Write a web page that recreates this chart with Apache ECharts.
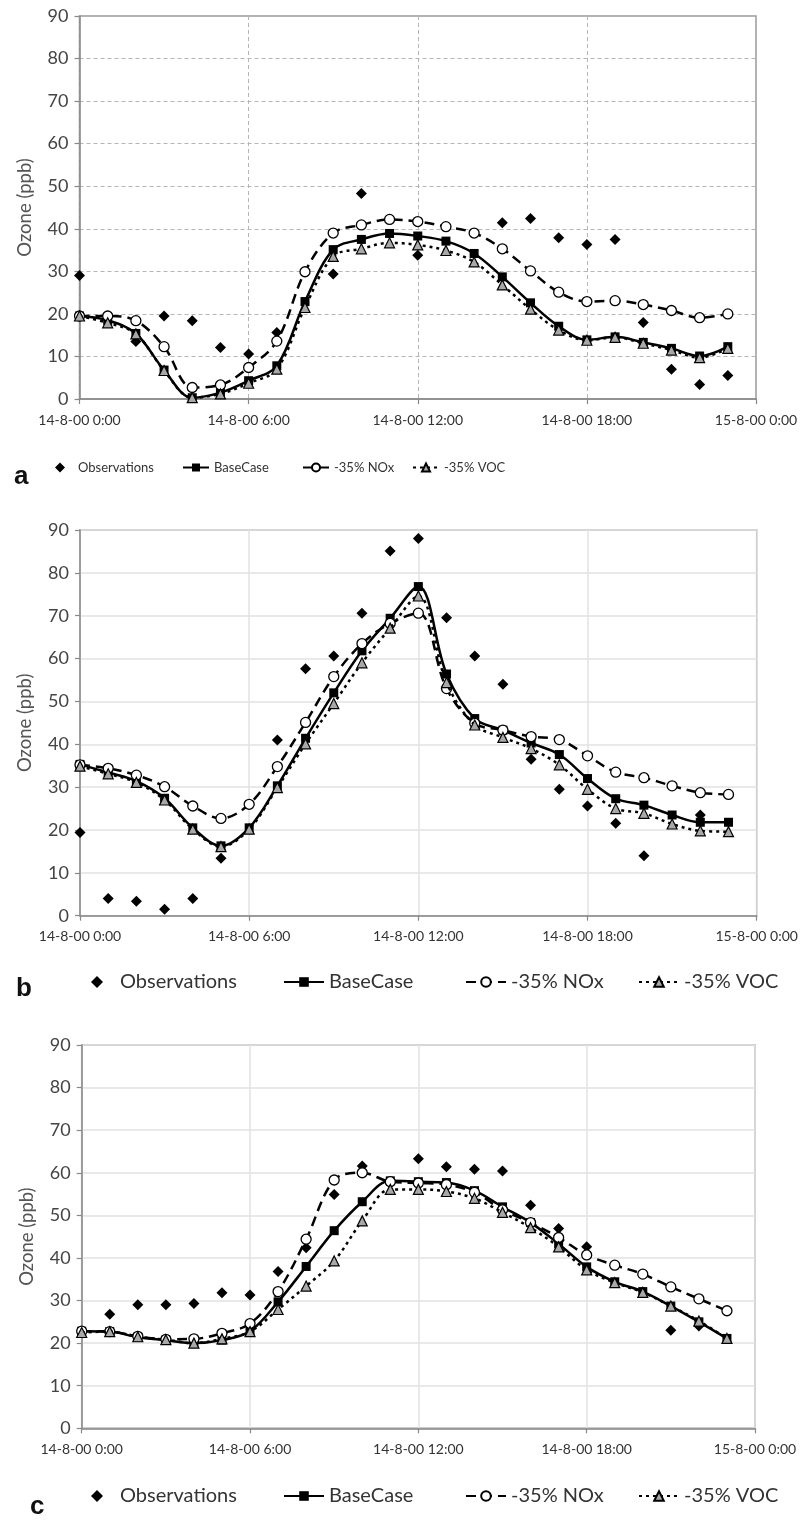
<!DOCTYPE html>
<html><head><meta charset="utf-8">
<script src="https://cdn.jsdelivr.net/npm/echarts@6/dist/echarts.min.js"></script>
<style>html,body{margin:0;padding:0;background:#fff}#chart{width:802px;height:1520px}</style>
</head><body><div id="chart"></div>
<script>
// ---- data ----
const hours = [0,1,2,3,4,5,6,7,8,9,10,11,12,13,14,15,16,17,18,19,20,21,22,23];
const xTickLabels = ['14-8-00 0:00','14-8-00 6:00','14-8-00 12:00','14-8-00 18:00','15-8-00 0:00'];
const seriesNames = ['Observations','BaseCase','-35% NOx','-35% VOC'];
const panelLetters = ['a','b','c'];
const yAxisTitle = 'Ozone (ppb)';

// panel a
const obsA  = [29.0,null,13.5,19.5,18.4,12.1,10.6,15.6,null,29.4,48.3,null,33.8,null,null,41.4,42.4,37.9,36.3,37.5,18.0,7.0,3.4,5.5];
const baseA = [19.5,18.5,15.4,6.8,0.3,1.5,4.3,7.8,22.9,35.1,37.5,38.9,38.3,37.1,34.2,28.7,22.6,17.1,13.9,14.6,13.3,11.9,10.1,12.3];
const noxA  = [19.5,19.5,18.4,12.3,2.7,3.3,7.4,13.6,29.9,39.0,40.9,42.2,41.7,40.5,39.0,35.3,30.1,25.1,22.9,23.1,22.2,20.8,19.1,20.0];
const vocA  = [19.5,17.9,15.3,6.7,0.3,1.2,3.7,7.0,21.5,33.5,35.3,36.7,36.2,34.9,32.2,26.8,21.1,16.2,13.8,14.5,13.1,11.5,9.7,11.9];
// panel b
const obsB  = [19.4,4.0,3.4,1.5,4.0,13.4,null,41.0,57.6,60.6,70.6,85.1,88.0,69.5,60.6,54.0,36.5,29.5,25.6,21.6,14.0,null,23.5,null];
const baseB = [35.3,33.4,31.4,27.4,20.5,16.3,20.5,30.3,41.4,52.0,61.8,69.4,76.8,56.4,46.0,43.3,40.3,37.6,32.0,27.3,25.8,23.5,21.8,21.8];
const noxB  = [35.2,34.4,32.8,30.1,25.6,22.7,26.0,34.8,45.1,55.8,63.5,68.2,70.6,53.0,44.9,43.3,41.8,41.1,37.3,33.5,32.2,30.3,28.7,28.3];
const vocB  = [34.9,33.1,31.1,27.0,20.2,16.1,20.2,29.9,40.1,49.5,59.0,67.1,74.6,54.4,44.5,41.6,39.0,35.2,29.5,25.0,23.9,21.4,19.8,19.6];
// panel c
const obsC  = [null,26.8,29.0,29.0,29.3,31.8,31.3,36.8,42.4,54.9,61.6,null,63.3,61.4,60.8,60.4,52.4,46.9,42.6,null,null,23.0,24.0,null];
const baseC = [22.8,22.7,21.4,20.7,20.0,20.7,22.8,29.7,38.0,46.4,53.2,58.1,57.9,57.7,55.8,52.0,48.3,43.3,37.9,34.4,32.1,28.7,25.0,21.1];
const noxC  = [22.8,22.7,21.6,20.9,21.0,22.3,24.6,32.1,44.4,58.3,60.0,57.9,57.6,57.2,55.4,51.3,48.3,44.8,40.7,38.3,36.2,33.2,30.4,27.6];
const vocC  = [22.5,22.7,21.5,20.8,20.0,21.0,22.7,27.9,33.4,39.3,48.7,56.1,56.1,55.6,54.0,50.7,47.1,42.6,37.2,34.2,31.9,28.7,25.2,21.1];

const panels = [
  {obs: obsA, base: baseA, nox: noxA, voc: vocA},
  {obs: obsB, base: baseB, nox: noxB, voc: vocB},
  {obs: obsC, base: baseC, nox: noxC, voc: vocC}
];

// ---- layout ----
const FONT = 'Lato, "DejaVu Sans", sans-serif';
const grids = [
  {left: 79.5, top: 16,   width: 676.5, height: 383},
  {left: 80,   top: 530,  width: 676.7, height: 385.7},
  {left: 81.7, top: 1045, width: 673.3, height: 383.3}
];

function pts(arr){
  const out = [];
  hours.forEach((h,i)=>{ if(arr[i]!==null && arr[i]!==undefined) out.push([h, arr[i]]); });
  return out;
}

const option = {
  animation: false,
  backgroundColor: '#fff',
  grid: grids.map(g => Object.assign({show: true, borderColor: '#999', borderWidth: 1.5, backgroundColor: 'transparent'}, g)),
  xAxis: grids.map((g, k) => ({
    gridIndex: k, type: 'value', min: 0, max: 24, interval: 6,
    axisLine: {lineStyle: {color: '#888', width: 1.5}},
    axisTick: {show: true, length: 5, lineStyle: {color: '#888', width: 1.2}},
    splitLine: {show: true, lineStyle: k === 0 ? {color: '#b5b5b5', type: [4,3], width: 1} : {color: '#e2e2e2', width: 1.5}},
    axisLabel: {formatter: v => xTickLabels[Math.round(v/6)], fontSize: 14, color: '#333', margin: 14, fontFamily: FONT, showMinLabel: true, showMaxLabel: true}
  })),
  yAxis: grids.map((g, k) => ({
    gridIndex: k, type: 'value', min: 0, max: 90, interval: 10,
    name: yAxisTitle, nameLocation: 'middle', nameGap: 45,
    nameTextStyle: {fontSize: 18.5, color: '#555', fontFamily: FONT},
    axisLine: {show: true, lineStyle: {color: '#888', width: 1.5}},
    axisTick: {show: true, length: 5, lineStyle: {color: '#888', width: 1.2}},
    splitLine: {show: true, lineStyle: k === 0 ? {color: '#b5b5b5', type: [4,3], width: 1} : {color: '#e2e2e2', width: 1.5}},
    axisLabel: {fontSize: 18, color: '#444', margin: 11, fontFamily: FONT}
  })),
  series: [],
  legend: [],
  graphic: []
};

const SM = 0.35;
panels.forEach((p, k) => {
  option.series.push({
    name: seriesNames[0], type: 'scatter', xAxisIndex: k, yAxisIndex: k,
    symbol: 'diamond', symbolSize: 11, itemStyle: {color: '#000', opacity: 1}, z: 2,
    data: pts(p.obs)
  });
  option.series.push({
    name: seriesNames[1], type: 'line', xAxisIndex: k, yAxisIndex: k, smooth: SM,
    symbol: 'rect', symbolSize: 9, showAllSymbol: true,
    itemStyle: {color: '#000'}, lineStyle: {color: '#000', width: 2.5}, z: 3,
    data: pts(p.base)
  });
  option.series.push({
    name: seriesNames[2], type: 'line', xAxisIndex: k, yAxisIndex: k, smooth: SM,
    symbol: 'circle', symbolSize: 10, showAllSymbol: true,
    itemStyle: {color: '#fff', borderColor: '#000', borderWidth: 1.3}, lineStyle: {color: '#000', width: 2.5, type: [10,6]}, z: 4,
    data: pts(p.nox)
  });
  option.series.push({
    name: seriesNames[3], type: 'line', xAxisIndex: k, yAxisIndex: k, smooth: SM,
    symbol: 'triangle', symbolSize: 10, showAllSymbol: true,
    itemStyle: {color: '#a8a8a8', borderColor: '#000', borderWidth: 1.2}, lineStyle: {color: '#000', width: 2.5, type: [3,4]}, z: 5,
    data: pts(p.voc)
  });
});

// legends: one component per item so each can be placed as in the figure
const legendLayouts = [
  {top: 461, font: 13, items: [
    {left: 55, w: 10, h: 10, pad: 8},
    {left: 182, w: 26, h: 10, pad: 0},
    {left: 302, w: 26, h: 10, pad: 0},
    {left: 412, w: 26, h: 10, pad: 0}]},
  {top: 972, font: 20, items: [
    {left: 91, w: 12, h: 12, pad: 12},
    {left: 283, w: 40, h: 12, pad: 0},
    {left: 465, w: 40, h: 12, pad: 0},
    {left: 638, w: 40, h: 12, pad: 0}]},
  {top: 1486, font: 20, items: [
    {left: 91, w: 12, h: 12, pad: 12},
    {left: 283, w: 40, h: 12, pad: 0},
    {left: 465, w: 40, h: 12, pad: 0},
    {left: 638, w: 40, h: 12, pad: 0}]}
];
legendLayouts.forEach(L => {
  L.items.forEach((it, i) => {
    option.legend.push({
      data: [seriesNames[i]], left: it.left, top: L.top, padding: 0,
      itemWidth: it.w, itemHeight: it.h, selectedMode: false,
      textStyle: {fontSize: L.font, color: '#333', fontFamily: FONT, padding: [0,0,0,it.pad]}
    });
  });
});

const letterPos = [[14, 464], [16, 976], [30, 1494]];
panelLetters.forEach((t, k) => {
  option.graphic.push({type: 'text', left: letterPos[k][0], top: letterPos[k][1],
    style: {text: t, fontSize: 26, fontWeight: 'bold', fill: '#111', fontFamily: 'Arial, "Liberation Sans", sans-serif'}});
});

const chart = echarts.init(document.getElementById('chart'), null, {renderer: 'canvas'});
chart.setOption(option);
</script></body></html>
